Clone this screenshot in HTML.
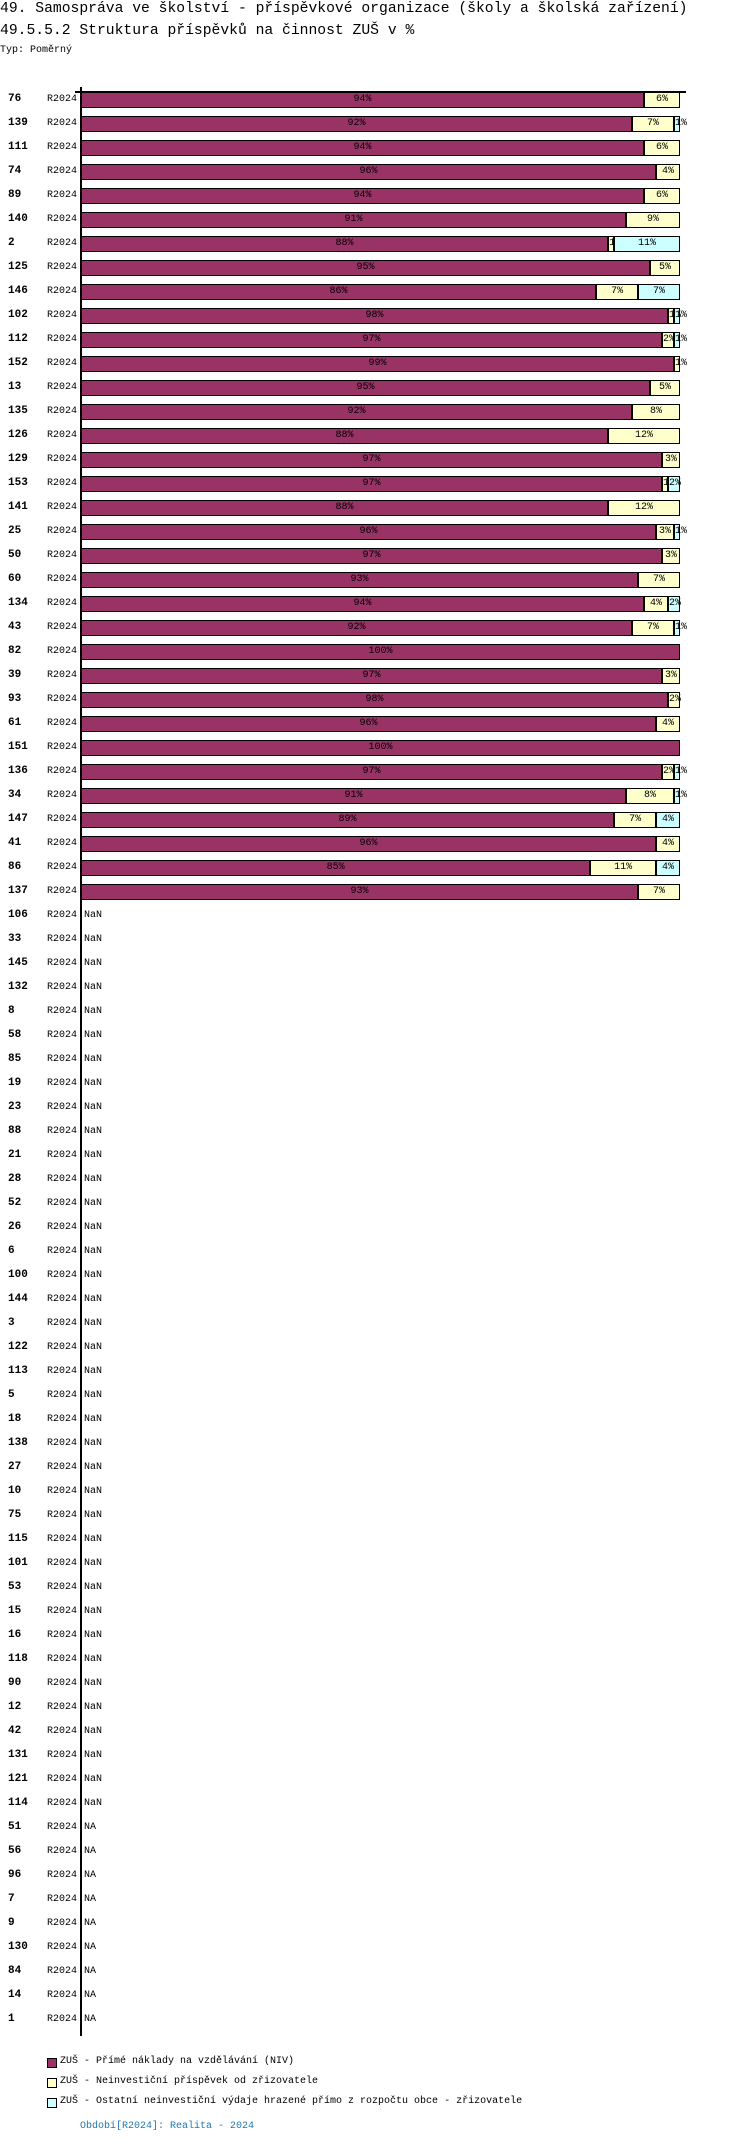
<!DOCTYPE html>
<html><head><meta charset="utf-8"><style>
body{margin:0;background:#fff;width:750px;height:2146px;position:relative;overflow:hidden;font-family:"Liberation Mono","DejaVu Sans Mono",monospace;color:#000}
.t1,.t2{position:absolute;left:0;font-size:14.7px;white-space:nowrap}
.t1{top:1px}.t2{top:23px}
.typ{position:absolute;left:0;top:45px;font-size:10px}
.row{position:absolute;left:0;width:750px;height:16px}
.id{position:absolute;left:8px;top:1px;font-size:11px;font-weight:bold}
.p{position:absolute;left:47px;top:2px;font-size:10px}
.na{position:absolute;left:84px;top:2px;font-size:10px}
.b{position:absolute;left:81px;top:0;width:599px;height:16px}
.s{position:absolute;top:0;height:16px;box-sizing:border-box;border:1.5px solid #000;font-size:10px;line-height:13px;text-align:center;overflow:visible;white-space:nowrap}
.m{background:#993366}.y{background:#ffffcc}.c{background:#ccffff}
.ax{position:absolute;left:80px;top:87px;width:2px;height:1949px;background:#000}
.hx{position:absolute;left:75px;top:91px;width:611px;height:1.5px;background:#000}
.lg{position:absolute;left:47px;width:8px;height:8px;border:1px solid #000}
.lt{position:absolute;left:60px;font-size:10px;white-space:nowrap}
.per{position:absolute;left:80px;top:2121px;font-size:10px;color:#1f77b4}
</style></head><body>
<div class="t1">49. Samospráva ve školství - příspěvkové organizace (školy a školská zařízení)</div>
<div class="t2">49.5.5.2 Struktura příspěvků na činnost ZUŠ v %</div>
<div class="typ">Typ: Poměrný</div>

<div class="row" style="top:92px"><span class="id">76</span><span class="p">R2024</span><div class="b"><div class="s m" style="left:0;width:94%">94%</div><div class="s y" style="left:94%;width:6%">6%</div></div></div>
<div class="row" style="top:116px"><span class="id">139</span><span class="p">R2024</span><div class="b"><div class="s m" style="left:0;width:92%">92%</div><div class="s y" style="left:92%;width:7%">7%</div><div class="s c" style="left:99%;width:1%">1%</div></div></div>
<div class="row" style="top:140px"><span class="id">111</span><span class="p">R2024</span><div class="b"><div class="s m" style="left:0;width:94%">94%</div><div class="s y" style="left:94%;width:6%">6%</div></div></div>
<div class="row" style="top:164px"><span class="id">74</span><span class="p">R2024</span><div class="b"><div class="s m" style="left:0;width:96%">96%</div><div class="s y" style="left:96%;width:4%">4%</div></div></div>
<div class="row" style="top:188px"><span class="id">89</span><span class="p">R2024</span><div class="b"><div class="s m" style="left:0;width:94%">94%</div><div class="s y" style="left:94%;width:6%">6%</div></div></div>
<div class="row" style="top:212px"><span class="id">140</span><span class="p">R2024</span><div class="b"><div class="s m" style="left:0;width:91%">91%</div><div class="s y" style="left:91%;width:9%">9%</div></div></div>
<div class="row" style="top:236px"><span class="id">2</span><span class="p">R2024</span><div class="b"><div class="s m" style="left:0;width:88%">88%</div><div class="s y" style="left:88%;width:1%">1%</div><div class="s c" style="left:89%;width:11%">11%</div></div></div>
<div class="row" style="top:260px"><span class="id">125</span><span class="p">R2024</span><div class="b"><div class="s m" style="left:0;width:95%">95%</div><div class="s y" style="left:95%;width:5%">5%</div></div></div>
<div class="row" style="top:284px"><span class="id">146</span><span class="p">R2024</span><div class="b"><div class="s m" style="left:0;width:86%">86%</div><div class="s y" style="left:86%;width:7%">7%</div><div class="s c" style="left:93%;width:7%">7%</div></div></div>
<div class="row" style="top:308px"><span class="id">102</span><span class="p">R2024</span><div class="b"><div class="s m" style="left:0;width:98%">98%</div><div class="s y" style="left:98%;width:1%">1%</div><div class="s c" style="left:99%;width:1%">1%</div></div></div>
<div class="row" style="top:332px"><span class="id">112</span><span class="p">R2024</span><div class="b"><div class="s m" style="left:0;width:97%">97%</div><div class="s y" style="left:97%;width:2%">2%</div><div class="s c" style="left:99%;width:1%">1%</div></div></div>
<div class="row" style="top:356px"><span class="id">152</span><span class="p">R2024</span><div class="b"><div class="s m" style="left:0;width:99%">99%</div><div class="s y" style="left:99%;width:1%">1%</div></div></div>
<div class="row" style="top:380px"><span class="id">13</span><span class="p">R2024</span><div class="b"><div class="s m" style="left:0;width:95%">95%</div><div class="s y" style="left:95%;width:5%">5%</div></div></div>
<div class="row" style="top:404px"><span class="id">135</span><span class="p">R2024</span><div class="b"><div class="s m" style="left:0;width:92%">92%</div><div class="s y" style="left:92%;width:8%">8%</div></div></div>
<div class="row" style="top:428px"><span class="id">126</span><span class="p">R2024</span><div class="b"><div class="s m" style="left:0;width:88%">88%</div><div class="s y" style="left:88%;width:12%">12%</div></div></div>
<div class="row" style="top:452px"><span class="id">129</span><span class="p">R2024</span><div class="b"><div class="s m" style="left:0;width:97%">97%</div><div class="s y" style="left:97%;width:3%">3%</div></div></div>
<div class="row" style="top:476px"><span class="id">153</span><span class="p">R2024</span><div class="b"><div class="s m" style="left:0;width:97%">97%</div><div class="s y" style="left:97%;width:1%">1%</div><div class="s c" style="left:98%;width:2%">2%</div></div></div>
<div class="row" style="top:500px"><span class="id">141</span><span class="p">R2024</span><div class="b"><div class="s m" style="left:0;width:88%">88%</div><div class="s y" style="left:88%;width:12%">12%</div></div></div>
<div class="row" style="top:524px"><span class="id">25</span><span class="p">R2024</span><div class="b"><div class="s m" style="left:0;width:96%">96%</div><div class="s y" style="left:96%;width:3%">3%</div><div class="s c" style="left:99%;width:1%">1%</div></div></div>
<div class="row" style="top:548px"><span class="id">50</span><span class="p">R2024</span><div class="b"><div class="s m" style="left:0;width:97%">97%</div><div class="s y" style="left:97%;width:3%">3%</div></div></div>
<div class="row" style="top:572px"><span class="id">60</span><span class="p">R2024</span><div class="b"><div class="s m" style="left:0;width:93%">93%</div><div class="s y" style="left:93%;width:7%">7%</div></div></div>
<div class="row" style="top:596px"><span class="id">134</span><span class="p">R2024</span><div class="b"><div class="s m" style="left:0;width:94%">94%</div><div class="s y" style="left:94%;width:4%">4%</div><div class="s c" style="left:98%;width:2%">2%</div></div></div>
<div class="row" style="top:620px"><span class="id">43</span><span class="p">R2024</span><div class="b"><div class="s m" style="left:0;width:92%">92%</div><div class="s y" style="left:92%;width:7%">7%</div><div class="s c" style="left:99%;width:1%">1%</div></div></div>
<div class="row" style="top:644px"><span class="id">82</span><span class="p">R2024</span><div class="b"><div class="s m" style="left:0;width:100%">100%</div></div></div>
<div class="row" style="top:668px"><span class="id">39</span><span class="p">R2024</span><div class="b"><div class="s m" style="left:0;width:97%">97%</div><div class="s y" style="left:97%;width:3%">3%</div></div></div>
<div class="row" style="top:692px"><span class="id">93</span><span class="p">R2024</span><div class="b"><div class="s m" style="left:0;width:98%">98%</div><div class="s y" style="left:98%;width:2%">2%</div></div></div>
<div class="row" style="top:716px"><span class="id">61</span><span class="p">R2024</span><div class="b"><div class="s m" style="left:0;width:96%">96%</div><div class="s y" style="left:96%;width:4%">4%</div></div></div>
<div class="row" style="top:740px"><span class="id">151</span><span class="p">R2024</span><div class="b"><div class="s m" style="left:0;width:100%">100%</div></div></div>
<div class="row" style="top:764px"><span class="id">136</span><span class="p">R2024</span><div class="b"><div class="s m" style="left:0;width:97%">97%</div><div class="s y" style="left:97%;width:2%">2%</div><div class="s c" style="left:99%;width:1%">1%</div></div></div>
<div class="row" style="top:788px"><span class="id">34</span><span class="p">R2024</span><div class="b"><div class="s m" style="left:0;width:91%">91%</div><div class="s y" style="left:91%;width:8%">8%</div><div class="s c" style="left:99%;width:1%">1%</div></div></div>
<div class="row" style="top:812px"><span class="id">147</span><span class="p">R2024</span><div class="b"><div class="s m" style="left:0;width:89%">89%</div><div class="s y" style="left:89%;width:7%">7%</div><div class="s c" style="left:96%;width:4%">4%</div></div></div>
<div class="row" style="top:836px"><span class="id">41</span><span class="p">R2024</span><div class="b"><div class="s m" style="left:0;width:96%">96%</div><div class="s y" style="left:96%;width:4%">4%</div></div></div>
<div class="row" style="top:860px"><span class="id">86</span><span class="p">R2024</span><div class="b"><div class="s m" style="left:0;width:85%">85%</div><div class="s y" style="left:85%;width:11%">11%</div><div class="s c" style="left:96%;width:4%">4%</div></div></div>
<div class="row" style="top:884px"><span class="id">137</span><span class="p">R2024</span><div class="b"><div class="s m" style="left:0;width:93%">93%</div><div class="s y" style="left:93%;width:7%">7%</div></div></div>

<div class="row" style="top:908px"><span class="id">106</span><span class="p">R2024</span><span class="na">NaN</span></div>
<div class="row" style="top:932px"><span class="id">33</span><span class="p">R2024</span><span class="na">NaN</span></div>
<div class="row" style="top:956px"><span class="id">145</span><span class="p">R2024</span><span class="na">NaN</span></div>
<div class="row" style="top:980px"><span class="id">132</span><span class="p">R2024</span><span class="na">NaN</span></div>
<div class="row" style="top:1004px"><span class="id">8</span><span class="p">R2024</span><span class="na">NaN</span></div>
<div class="row" style="top:1028px"><span class="id">58</span><span class="p">R2024</span><span class="na">NaN</span></div>
<div class="row" style="top:1052px"><span class="id">85</span><span class="p">R2024</span><span class="na">NaN</span></div>
<div class="row" style="top:1076px"><span class="id">19</span><span class="p">R2024</span><span class="na">NaN</span></div>
<div class="row" style="top:1100px"><span class="id">23</span><span class="p">R2024</span><span class="na">NaN</span></div>
<div class="row" style="top:1124px"><span class="id">88</span><span class="p">R2024</span><span class="na">NaN</span></div>
<div class="row" style="top:1148px"><span class="id">21</span><span class="p">R2024</span><span class="na">NaN</span></div>
<div class="row" style="top:1172px"><span class="id">28</span><span class="p">R2024</span><span class="na">NaN</span></div>
<div class="row" style="top:1196px"><span class="id">52</span><span class="p">R2024</span><span class="na">NaN</span></div>
<div class="row" style="top:1220px"><span class="id">26</span><span class="p">R2024</span><span class="na">NaN</span></div>
<div class="row" style="top:1244px"><span class="id">6</span><span class="p">R2024</span><span class="na">NaN</span></div>
<div class="row" style="top:1268px"><span class="id">100</span><span class="p">R2024</span><span class="na">NaN</span></div>
<div class="row" style="top:1292px"><span class="id">144</span><span class="p">R2024</span><span class="na">NaN</span></div>
<div class="row" style="top:1316px"><span class="id">3</span><span class="p">R2024</span><span class="na">NaN</span></div>
<div class="row" style="top:1340px"><span class="id">122</span><span class="p">R2024</span><span class="na">NaN</span></div>
<div class="row" style="top:1364px"><span class="id">113</span><span class="p">R2024</span><span class="na">NaN</span></div>
<div class="row" style="top:1388px"><span class="id">5</span><span class="p">R2024</span><span class="na">NaN</span></div>
<div class="row" style="top:1412px"><span class="id">18</span><span class="p">R2024</span><span class="na">NaN</span></div>
<div class="row" style="top:1436px"><span class="id">138</span><span class="p">R2024</span><span class="na">NaN</span></div>
<div class="row" style="top:1460px"><span class="id">27</span><span class="p">R2024</span><span class="na">NaN</span></div>
<div class="row" style="top:1484px"><span class="id">10</span><span class="p">R2024</span><span class="na">NaN</span></div>
<div class="row" style="top:1508px"><span class="id">75</span><span class="p">R2024</span><span class="na">NaN</span></div>
<div class="row" style="top:1532px"><span class="id">115</span><span class="p">R2024</span><span class="na">NaN</span></div>
<div class="row" style="top:1556px"><span class="id">101</span><span class="p">R2024</span><span class="na">NaN</span></div>
<div class="row" style="top:1580px"><span class="id">53</span><span class="p">R2024</span><span class="na">NaN</span></div>
<div class="row" style="top:1604px"><span class="id">15</span><span class="p">R2024</span><span class="na">NaN</span></div>
<div class="row" style="top:1628px"><span class="id">16</span><span class="p">R2024</span><span class="na">NaN</span></div>
<div class="row" style="top:1652px"><span class="id">118</span><span class="p">R2024</span><span class="na">NaN</span></div>
<div class="row" style="top:1676px"><span class="id">90</span><span class="p">R2024</span><span class="na">NaN</span></div>
<div class="row" style="top:1700px"><span class="id">12</span><span class="p">R2024</span><span class="na">NaN</span></div>
<div class="row" style="top:1724px"><span class="id">42</span><span class="p">R2024</span><span class="na">NaN</span></div>
<div class="row" style="top:1748px"><span class="id">131</span><span class="p">R2024</span><span class="na">NaN</span></div>
<div class="row" style="top:1772px"><span class="id">121</span><span class="p">R2024</span><span class="na">NaN</span></div>
<div class="row" style="top:1796px"><span class="id">114</span><span class="p">R2024</span><span class="na">NaN</span></div>
<div class="row" style="top:1820px"><span class="id">51</span><span class="p">R2024</span><span class="na">NA</span></div>
<div class="row" style="top:1844px"><span class="id">56</span><span class="p">R2024</span><span class="na">NA</span></div>
<div class="row" style="top:1868px"><span class="id">96</span><span class="p">R2024</span><span class="na">NA</span></div>
<div class="row" style="top:1892px"><span class="id">7</span><span class="p">R2024</span><span class="na">NA</span></div>
<div class="row" style="top:1916px"><span class="id">9</span><span class="p">R2024</span><span class="na">NA</span></div>
<div class="row" style="top:1940px"><span class="id">130</span><span class="p">R2024</span><span class="na">NA</span></div>
<div class="row" style="top:1964px"><span class="id">84</span><span class="p">R2024</span><span class="na">NA</span></div>
<div class="row" style="top:1988px"><span class="id">14</span><span class="p">R2024</span><span class="na">NA</span></div>
<div class="row" style="top:2012px"><span class="id">1</span><span class="p">R2024</span><span class="na">NA</span></div>

<div class="ax"></div>
<div class="hx"></div>

<div class="lg m" style="top:2058px"></div><div class="lt" style="top:2056px">ZUŠ - Přímé náklady na vzdělávání (NIV)</div>
<div class="lg y" style="top:2078px"></div><div class="lt" style="top:2076px">ZUŠ - Neinvestiční příspěvek od zřizovatele</div>
<div class="lg c" style="top:2098px"></div><div class="lt" style="top:2096px">ZUŠ - Ostatní neinvestiční výdaje hrazené přímo z rozpočtu obce - zřizovatele</div>
<div class="per">Období[R2024]: Realita - 2024</div>
</body></html>
